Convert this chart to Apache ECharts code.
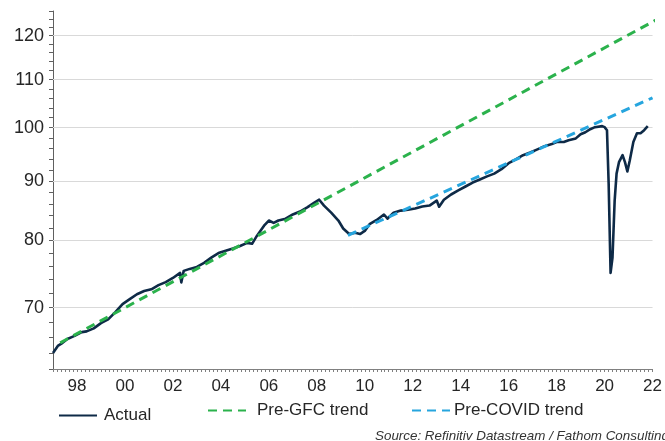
<!DOCTYPE html>
<html>
<head>
<meta charset="utf-8">
<script src="https://cdn.jsdelivr.net/npm/echarts@6/dist/echarts.min.js"></script>
<style>
html,body{margin:0;padding:0;background:#fff;}
#c{width:665px;height:441px;}
</style>
</head>
<body>
<div id="c"></div>
<script>
// ---- data ----
const actualYears = [1997.0,1997.2,1997.4,1997.6,1997.9,1998.2,1998.4,1998.7,1999.0,1999.3,1999.6,1999.9,2000.2,2000.5,2000.8,2001.1,2001.4,2001.7,2002.0,2002.3,2002.35,2002.45,2002.7,2003.0,2003.3,2003.6,2003.9,2004.2,2004.5,2004.8,2005.1,2005.3,2005.5,2005.8,2006.0,2006.2,2006.4,2006.7,2007.0,2007.3,2007.6,2007.9,2008.1,2008.3,2008.6,2008.9,2009.1,2009.35,2009.6,2009.8,2010.0,2010.2,2010.5,2010.8,2010.95,2011.2,2011.5,2011.8,2012.1,2012.4,2012.7,2013.0,2013.1,2013.3,2013.6,2013.9,2014.2,2014.5,2014.8,2015.1,2015.4,2015.7,2016.0,2016.3,2016.6,2016.9,2017.2,2017.5,2017.8,2018.0,2018.3,2018.5,2018.8,2019.0,2019.2,2019.4,2019.6,2019.9,2020.0,2020.1,2020.17,2020.25,2020.33,2020.42,2020.5,2020.6,2020.75,2020.85,2020.95,2021.05,2021.2,2021.35,2021.5,2021.65,2021.8];
const actualValues = [64.0,64.9,65.3,65.8,66.2,66.7,66.8,67.2,67.9,68.4,69.4,70.5,71.2,71.9,72.35,72.6,73.2,73.65,74.25,75.0,73.6,75.3,75.6,75.9,76.5,77.3,78.0,78.35,78.7,79.1,79.6,79.45,80.7,82.35,83.2,82.8,83.2,83.5,84.2,84.7,85.4,86.2,86.7,85.7,84.5,83.2,81.9,81.0,81.2,81.0,81.5,82.6,83.3,84.2,83.5,84.5,84.85,85.0,85.2,85.55,85.7,86.55,85.5,86.7,87.6,88.3,89.0,89.7,90.25,90.8,91.3,92.1,93.2,93.9,94.7,95.2,95.8,96.4,96.8,97.2,97.2,97.55,97.9,98.7,99.1,99.7,100.1,100.3,100.1,99.5,89.5,75.0,77.3,86.55,91.3,93.4,94.7,93.4,91.7,93.7,97.2,98.9,98.9,99.5,100.3];

const gfcYears = [1997.3, 2022.4];
const gfcValues = [65.3, 124.6];
const covidYears = [2009.3, 2022.0];
const covidValues = [80.8, 106.1];

const yTickLabels = [70, 80, 90, 100, 110, 120];
const xTickLabels = [1998,2000,2002,2004,2006,2008,2010,2012,2014,2016,2018,2020,2022];

// ---- build ----
const zip = (xs, ys) => xs.map((x, i) => [x, ys[i]]);
const yMinor = [];
for (let v = 62; v <= 126; v += 2) yMinor.push(v);
const xMinor = [];
for (let m = 0; m <= 25 * 6; m++) xMinor.push(1997 + m / 6);

const chart = echarts.init(document.getElementById('c'), null, {renderer: 'canvas'});
const font = "'Liberation Sans', Arial, sans-serif";
const legendCommon = {padding: 0, itemWidth: 38, itemHeight: 12, itemStyle: {opacity: 0}};
const option = {
  animation: false,
  backgroundColor: '#fff',
  grid: {left: 53, right: 12, top: 11, bottom: 72, containLabel: false},
  xAxis: {
    type: 'value', min: 1997, max: 2022,
    axisLine: {show: true, lineStyle: {color: '#808080', width: 1}},
    axisTick: {show: true, customValues: xMinor, length: 3, lineStyle: {color: '#808080'}},
    axisLabel: {customValues: xTickLabels, margin: 9, color: '#262626', fontSize: 17, fontFamily: font,
      formatter: v => String(Math.round(v) % 100).padStart(2, '0')},
    splitLine: {show: false}
  },
  yAxis: {
    type: 'log', logBase: 10, min: 62, max: 126,
    axisLine: {show: true, lineStyle: {color: '#606060', width: 1}},
    axisTick: {show: true, customValues: yMinor, length: 4, lineStyle: {color: '#606060'}},
    axisLabel: {customValues: yTickLabels, margin: 9, color: '#262626', fontSize: 18, fontFamily: font,
      formatter: v => String(Math.round(v))},
    splitLine: {show: false}
  },
  legend: [
    Object.assign({data: ['Actual'], left: 58, top: 407,
      textStyle: {fontSize: 17, fontFamily: font, color: '#262626', padding: [0,0,0,2]}}, legendCommon),
    Object.assign({data: ['Pre-GFC trend'], left: 207, top: 402,
      textStyle: {fontSize: 17, fontFamily: font, color: '#262626', padding: [0,0,0,6]}}, legendCommon),
    Object.assign({data: ['Pre-COVID trend'], left: 411, top: 402,
      textStyle: {fontSize: 17, fontFamily: font, color: '#262626', padding: [0,0,0,-1]}}, legendCommon)
  ],
  graphic: [
    {type: 'text', left: 375, top: 430, style: {text: 'Source: Refinitiv Datastream / Fathom Consulting',
      font: "italic 13.4px 'Liberation Sans', Arial, sans-serif", fill: '#333'}}
  ],
  series: [
    {
      name: 'Actual', type: 'line', data: zip(actualYears, actualValues),
      symbol: 'none', z: 2,
      lineStyle: {color: '#0e2a47', width: 2.6, join: 'round'},
      itemStyle: {color: '#0e2a47'},
      markLine: {
        silent: true, symbol: 'none', z: 1,
        label: {show: false},
        lineStyle: {color: '#d9d9d9', width: 1, type: 'solid'},
        data: yTickLabels.map(v => ({yAxis: v}))
      }
    },
    {
      name: 'Pre-GFC trend', type: 'line', data: zip(gfcYears, gfcValues),
      symbol: 'none', z: 3, clip: false,
      lineStyle: {color: '#2bb24c', width: 3, type: [9, 6]},
      itemStyle: {color: '#2bb24c'}
    },
    {
      name: 'Pre-COVID trend', type: 'line', data: zip(covidYears, covidValues),
      symbol: 'none', z: 3,
      lineStyle: {color: '#26a5de', width: 3, type: [9, 6]},
      itemStyle: {color: '#26a5de'}
    }
  ]
};
chart.setOption(option);
</script>
</body>
</html>
